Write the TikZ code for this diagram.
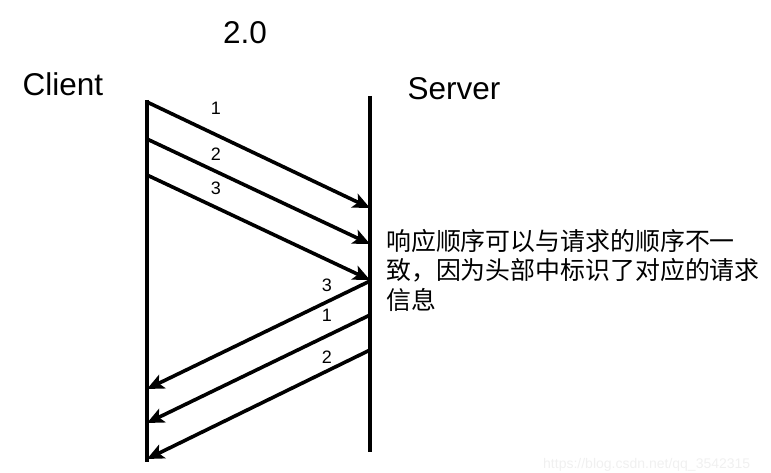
\documentclass[tikz,border=0pt]{standalone}
\usepackage{fontspec}
\setmainfont{Liberation Sans}
\newfontfamily\cjk{Noto Sans CJK SC}
\usetikzlibrary{arrows.meta}
\begin{document}
\begin{tikzpicture}[x=1pt,y=-1pt,
  lifeline/.style={line width=3.6pt},
  msg/.style={line width=3.6pt,-{Stealth[length=17pt,width=15pt,inset=4pt]}},
  title/.style={font=\fontsize{31.5}{36}\selectfont,inner sep=0pt},
  num/.style={font=\fontsize{18}{20}\selectfont,inner sep=0pt},
  note/.style={font=\cjk\fontsize{24.9}{29.5}\selectfont,inner sep=0pt,align=left,anchor=north west}]
\useasboundingbox (0,0) rectangle (771,473);
% lifelines
\coordinate (ctop) at (147,100);
\coordinate (cbot) at (147,462);
\coordinate (stop) at (370,96);
\coordinate (sbot) at (370,452);
\draw[lifeline] (ctop) -- (cbot);
\draw[lifeline] (stop) -- (sbot);
% titles
\node[title] (ver) at (245,33) {2.0};
\node[title] (client) at (63,84) {Client};
\node[title] (server) at (454,89) {Server};
% requests
\coordinate (r1a) at (147,102);
\coordinate (r1b) at (370,208);
\coordinate (r2a) at (147,139);
\coordinate (r2b) at (370,244);
\coordinate (r3a) at (147,175);
\coordinate (r3b) at (370,280);
\draw[msg] (r1a) -- (r1b);
\draw[msg] (r2a) -- (r2b);
\draw[msg] (r3a) -- (r3b);
\node[num] (n1) at (216,108) {1};
\node[num] (n2) at (216,154) {2};
\node[num] (n3) at (216,188) {3};
% responses
\coordinate (p3a) at (370,281);
\coordinate (p3b) at (147,389);
\coordinate (p1a) at (370,315);
\coordinate (p1b) at (147,423);
\coordinate (p2a) at (370,350);
\coordinate (p2b) at (147,459);
\draw[msg] (p3a) -- (p3b);
\draw[msg] (p1a) -- (p1b);
\draw[msg] (p2a) -- (p2b);
\node[num] (m3) at (327,285) {3};
\node[num] (m1) at (327,315) {1};
\node[num] (m2) at (327,357) {2};
% note
\node[note] (txt) at (386,229) {响应顺序可以与请求的顺序不一\\致，因为头部中标识了对应的请求\\信息};
% watermark
\node[font=\fontsize{14}{16}\selectfont,text=black!6,anchor=base west,inner sep=0pt] (wm) at (543,468) {https://blog.csdn.net/qq\_3542315};
\end{tikzpicture}
\end{document}
